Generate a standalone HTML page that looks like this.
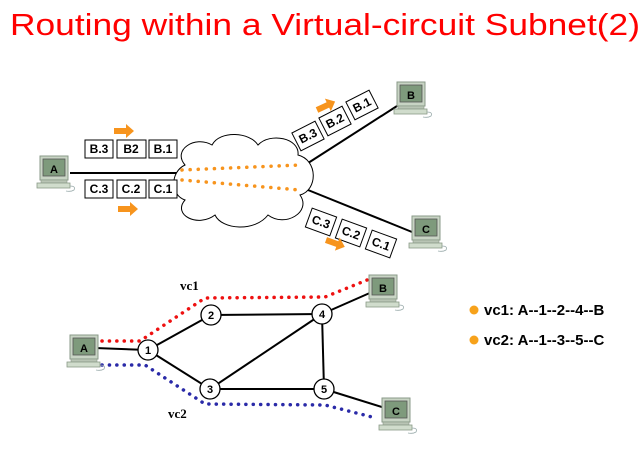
<!DOCTYPE html>
<html><head><meta charset="utf-8"><style>
html,body{margin:0;padding:0;background:#fff;}
svg{display:block;}
text{font-family:"Liberation Sans",Arial,sans-serif;}
</style></head><body>
<svg width="644" height="459" viewBox="0 0 644 459" xmlns="http://www.w3.org/2000/svg">
<defs>
<g id="pc">
 <rect x="0" y="0" width="28" height="24" fill="#c8d4c4" stroke="#8a9a88" stroke-width="1"/>
 <rect x="3" y="3" width="22" height="17" fill="#7e9a7c" stroke="#555" stroke-width="0.8"/>
 <rect x="1" y="24" width="26" height="3" fill="#b8c4b4" stroke="#8a9a88" stroke-width="0.6"/>
 <rect x="-3" y="27" width="33" height="5" fill="#d0dccc" stroke="#8a9a88" stroke-width="0.8"/>
 <path d="M30 30 q6 0 4 4 q-3 2 -8 1" fill="none" stroke="#9aa" stroke-width="0.8"/>
</g>
<g id="arr"><polygon points="0,4 12,4 12,0 20,7 12,14 12,10 0,10" fill="#f7941d"/></g>
</defs>

<text x="10" y="35" font-size="31" fill="#ff0000" textLength="630" lengthAdjust="spacingAndGlyphs">Routing within a Virtual-circuit Subnet(2)</text>

<line x1="70" y1="173" x2="180" y2="173" stroke="#000" stroke-width="2"/>
<line x1="305" y1="165" x2="397" y2="106" stroke="#000" stroke-width="2"/>
<line x1="308" y1="190" x2="412" y2="232" stroke="#000" stroke-width="2"/>
<path d="M185 165 C172 150 195 135 212 145 C220 130 250 132 258 145 C270 132 300 138 298 155 C318 160 318 190 300 195 C312 212 285 228 268 215 C255 232 222 230 215 215 C198 228 172 215 185 200 C170 195 170 172 185 165 Z" fill="#fff" stroke="#000" stroke-width="1"/>
<line x1="182" y1="170" x2="300" y2="165" stroke="#f7941d" stroke-width="3.5" stroke-dasharray="0.1 8" stroke-linecap="round"/>
<line x1="182" y1="180" x2="300" y2="190" stroke="#f7941d" stroke-width="3.5" stroke-dasharray="0.1 8" stroke-linecap="round"/>

<use href="#pc" x="40" y="156"/>
<text x="54" y="173" font-size="11" font-weight="bold" text-anchor="middle">A</text>
<use href="#pc" x="397" y="82"/>
<text x="411" y="99" font-size="11" font-weight="bold" text-anchor="middle">B</text>
<use href="#pc" x="412" y="216"/>
<text x="426" y="233" font-size="11" font-weight="bold" text-anchor="middle">C</text>

<g font-size="12" font-weight="bold" text-anchor="middle" stroke="none">
<rect x="85" y="140" width="28" height="18" fill="#fff" stroke="#000"/><text x="99" y="153">B.3</text>
<rect x="117" y="140" width="29" height="18" fill="#fff" stroke="#000"/><text x="131" y="153">B2</text>
<rect x="149" y="140" width="28" height="18" fill="#fff" stroke="#000"/><text x="163" y="153">B.1</text>
<rect x="85" y="180" width="28" height="18" fill="#fff" stroke="#000"/><text x="99" y="193">C.3</text>
<rect x="117" y="180" width="29" height="18" fill="#fff" stroke="#000"/><text x="131" y="193">C.2</text>
<rect x="149" y="180" width="28" height="18" fill="#fff" stroke="#000"/><text x="163" y="193">C.1</text>
<g transform="translate(308,136) rotate(-27)"><rect x="-13" y="-10" width="26" height="20" fill="#fff" stroke="#000"/><text x="0" y="4">B.3</text></g>
<g transform="translate(335,121) rotate(-27)"><rect x="-13" y="-10" width="26" height="20" fill="#fff" stroke="#000"/><text x="0" y="4">B.2</text></g>
<g transform="translate(362,105) rotate(-27)"><rect x="-13" y="-10" width="26" height="20" fill="#fff" stroke="#000"/><text x="0" y="4">B.1</text></g>
<g transform="translate(321,222) rotate(20)"><rect x="-13" y="-10" width="26" height="20" fill="#fff" stroke="#000"/><text x="0" y="4">C.3</text></g>
<g transform="translate(351,233) rotate(20)"><rect x="-13" y="-10" width="26" height="20" fill="#fff" stroke="#000"/><text x="0" y="4">C.2</text></g>
<g transform="translate(381,244) rotate(20)"><rect x="-13" y="-10" width="26" height="20" fill="#fff" stroke="#000"/><text x="0" y="4">C.1</text></g>
</g>
<use href="#arr" x="114" y="124"/>
<use href="#arr" x="118" y="202"/>
<g transform="translate(317,110) rotate(-25)"><use href="#arr" x="0" y="-7"/></g>
<g transform="translate(326,240) rotate(20)"><use href="#arr" x="0" y="-7"/></g>

<g stroke="#000" stroke-width="2">
<line x1="95" y1="348" x2="148" y2="350"/>
<line x1="148" y1="350" x2="211" y2="315"/>
<line x1="148" y1="350" x2="210" y2="389"/>
<line x1="211" y1="315" x2="322" y2="314"/>
<line x1="210" y1="389" x2="322" y2="314"/>
<line x1="210" y1="389" x2="324" y2="389"/>
<line x1="322" y1="314" x2="324" y2="389"/>
<line x1="322" y1="314" x2="372" y2="292"/>
<line x1="324" y1="389" x2="385" y2="408"/>
</g>
<polyline points="102,341 140,341 205,298 325,297 372,278" fill="none" stroke="#ee1111" stroke-width="3.5" stroke-dasharray="0.1 7.3" stroke-linecap="round"/>
<polyline points="102,365 145,365 205,404 325,405 376,418" fill="none" stroke="#2a2aa8" stroke-width="3.5" stroke-dasharray="0.1 7.3" stroke-linecap="round"/>

<use href="#pc" x="70" y="335"/>
<text x="84" y="352" font-size="11" font-weight="bold" text-anchor="middle">A</text>
<use href="#pc" x="369" y="275"/>
<text x="383" y="292" font-size="11" font-weight="bold" text-anchor="middle">B</text>
<use href="#pc" x="382" y="398"/>
<text x="396" y="415" font-size="11" font-weight="bold" text-anchor="middle">C</text>

<g font-size="11" font-weight="bold" text-anchor="middle">
<circle cx="148" cy="350" r="10" fill="#fff" stroke="#000" stroke-width="1.3"/><text x="148" y="354">1</text>
<circle cx="211" cy="315" r="10" fill="#fff" stroke="#000" stroke-width="1.3"/><text x="211" y="319">2</text>
<circle cx="210" cy="389" r="10" fill="#fff" stroke="#000" stroke-width="1.3"/><text x="210" y="393">3</text>
<circle cx="322" cy="314" r="10" fill="#fff" stroke="#000" stroke-width="1.3"/><text x="322" y="318">4</text>
<circle cx="324" cy="389" r="10" fill="#fff" stroke="#000" stroke-width="1.3"/><text x="324" y="393">5</text>
</g>
<text x="180" y="290" font-size="13" font-weight="bold" style="font-family:'Liberation Serif',serif">vc1</text>
<text x="168" y="418" font-size="13" font-weight="bold" style="font-family:'Liberation Serif',serif">vc2</text>

<circle cx="474" cy="310" r="4.5" fill="#f7a21b"/>
<text x="484" y="315" font-size="15" font-weight="bold">vc1: A--1--2--4--B</text>
<circle cx="474" cy="340" r="4.5" fill="#f7a21b"/>
<text x="484" y="345" font-size="15" font-weight="bold">vc2: A--1--3--5--C</text>
</svg>
</body></html>
